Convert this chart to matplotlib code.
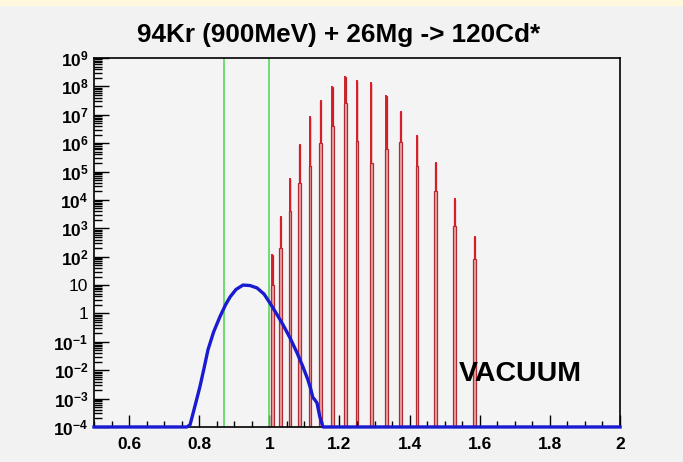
import matplotlib
matplotlib.use('Agg')
import matplotlib.pyplot as plt
from matplotlib.patches import Rectangle
from matplotlib.ticker import FixedLocator, LogLocator, MultipleLocator, NullFormatter

plt.rcParams['font.family'] = ['Liberation Sans', 'DejaVu Sans']
plt.rcParams['mathtext.fontset'] = 'custom'
plt.rcParams['mathtext.rm'] = 'Liberation Sans:bold'
plt.rcParams['mathtext.bf'] = 'Liberation Sans:bold'
plt.rcParams['mathtext.it'] = 'Liberation Sans:bold'

# blue curve
blue_x = [0.50, 0.765, 0.774, 0.788, 0.802, 0.814, 0.825, 0.841, 0.859, 0.875,
          0.888, 0.905, 0.925, 0.945, 0.965, 0.985, 1.002, 1.020, 1.039, 1.060,
          1.079, 1.095, 1.110, 1.118, 1.124, 1.130, 1.136, 1.140, 1.144, 1.153, 2.00]
blue_y = [1e-4, 1e-4, 1.2e-4, 5.5e-4, 2.6e-3, 1.2e-2, 5.2e-2, 0.22, 0.76, 2.0,
          3.8, 7.0, 10.0, 9.6, 7.9, 4.8, 2.3, 1.0, 0.40, 0.13,
          4.1e-2, 1.4e-2, 4.6e-3, 2.2e-3, 1.1e-3, 9e-4, 7e-4, 4e-4, 2.3e-4, 1e-4, 1e-4]

# red spikes: position, peak value, shoulder value
spike_x = [1.008, 1.033, 1.059, 1.087, 1.116, 1.147, 1.179, 1.216,
           1.250, 1.290, 1.333, 1.375, 1.421, 1.475, 1.529, 1.586]
spike_peak = [1.1e2, 2.5e3, 5.5e4, 8.7e5, 8.3e6, 3.1e7, 9.5e7, 2.1e8,
              1.5e8, 1.3e8, 4.6e7, 1.3e7, 1.8e6, 2.0e5, 1.1e4, 5.0e2]
spike_shoulder = [1e1, 2e2, 4e3, 4e4, 1.6e5, 1e6, 4e6, 2.5e7,
                  1.2e6, 2e5, 6e5, 1.1e6, 1.6e5, 2e4, 1.2e3, 80]

# green gates
gate_x = [0.87, 1.0]

ytick_vals = [1e-4, 1e-3, 1e-2, 1e-1, 1, 10, 1e2, 1e3, 1e4, 1e5, 1e6, 1e7, 1e8, 1e9]
ytick_labels = [r'$10^{-4}$', r'$10^{-3}$', r'$10^{-2}$', r'$10^{-1}$', '1', '10',
                r'$10^{2}$', r'$10^{3}$', r'$10^{4}$', r'$10^{5}$', r'$10^{6}$',
                r'$10^{7}$', r'$10^{8}$', r'$10^{9}$']
xtick_vals = [0.6, 0.8, 1.0, 1.2, 1.4, 1.6, 1.8, 2.0]
xtick_labels = ['0.6', '0.8', '1', '1.2', '1.4', '1.6', '1.8', '2']

title = '94Kr (900MeV) + 26Mg -> 120Cd*'

fig = plt.figure(figsize=(6.83, 4.62), dpi=100)
fig.patch.set_facecolor('#f2f2f2')
fig.patches.append(Rectangle((0, 0.988), 1, 0.012, transform=fig.transFigure,
                             facecolor='#fff8dc', edgecolor='none'))

ax = fig.add_axes([0.1376, 0.0758, 0.7702, 0.7987])
ax.set_facecolor('#f4f4f4')
ax.set_yscale('log')
ax.set_xlim(0.5, 2.0)
ax.set_ylim(1e-4, 1e9)

ymin = 1e-4
hw, tw = 0.0042, 0.0012
for x, pk, sh in zip(spike_x, spike_peak, spike_shoulder):
    xs = [x - hw, x - hw, x - tw, x - tw, x + tw, x + tw, x + hw, x + hw]
    ys = [ymin, sh, sh, pk, pk, sh, sh, ymin]
    ax.fill(xs, ys, facecolor='#eaa6a6', edgecolor='#b02a34', lw=0.9)
    ax.plot([x, x], [sh, pk], color='#d81e28', lw=1.4)

for g in gate_x:
    ax.axvline(g, color='#5ad65a', lw=1.2)

ax.plot(blue_x, blue_y, color='#1a1ad0', lw=2.4, clip_on=False, zorder=5)

ax.yaxis.set_major_locator(FixedLocator(ytick_vals))
ax.set_yticklabels(ytick_labels)
ax.yaxis.set_minor_locator(LogLocator(base=10, subs=range(2, 10), numticks=60))
ax.yaxis.set_minor_formatter(NullFormatter())
ax.xaxis.set_major_locator(FixedLocator(xtick_vals))
ax.set_xticklabels(xtick_labels, fontweight='bold')
ax.xaxis.set_minor_locator(MultipleLocator(0.05))

ax.tick_params(axis='y', which='major', direction='in', length=11, width=1,
               left=True, right=False, labelsize=12.5, pad=4)
ax.tick_params(axis='y', which='minor', direction='in', length=6, width=1,
               left=True, right=False)
ax.tick_params(axis='x', which='major', direction='in', length=8.5, width=1,
               bottom=True, top=False, labelsize=12.5, pad=7)
ax.tick_params(axis='x', which='minor', direction='in', length=4, width=1,
               bottom=True, top=False)
for sp in ax.spines.values():
    sp.set_linewidth(1.2)

fig.text(0.495, 0.924, title, ha='center', va='center', fontsize=18.8, fontweight='bold')
ax.text(0.81, 0.144, 'VACUUM', transform=ax.transAxes, ha='center', va='center',
        fontsize=20.5, fontweight='bold')

fig.savefig('out.png', dpi=100, facecolor=fig.get_facecolor())
